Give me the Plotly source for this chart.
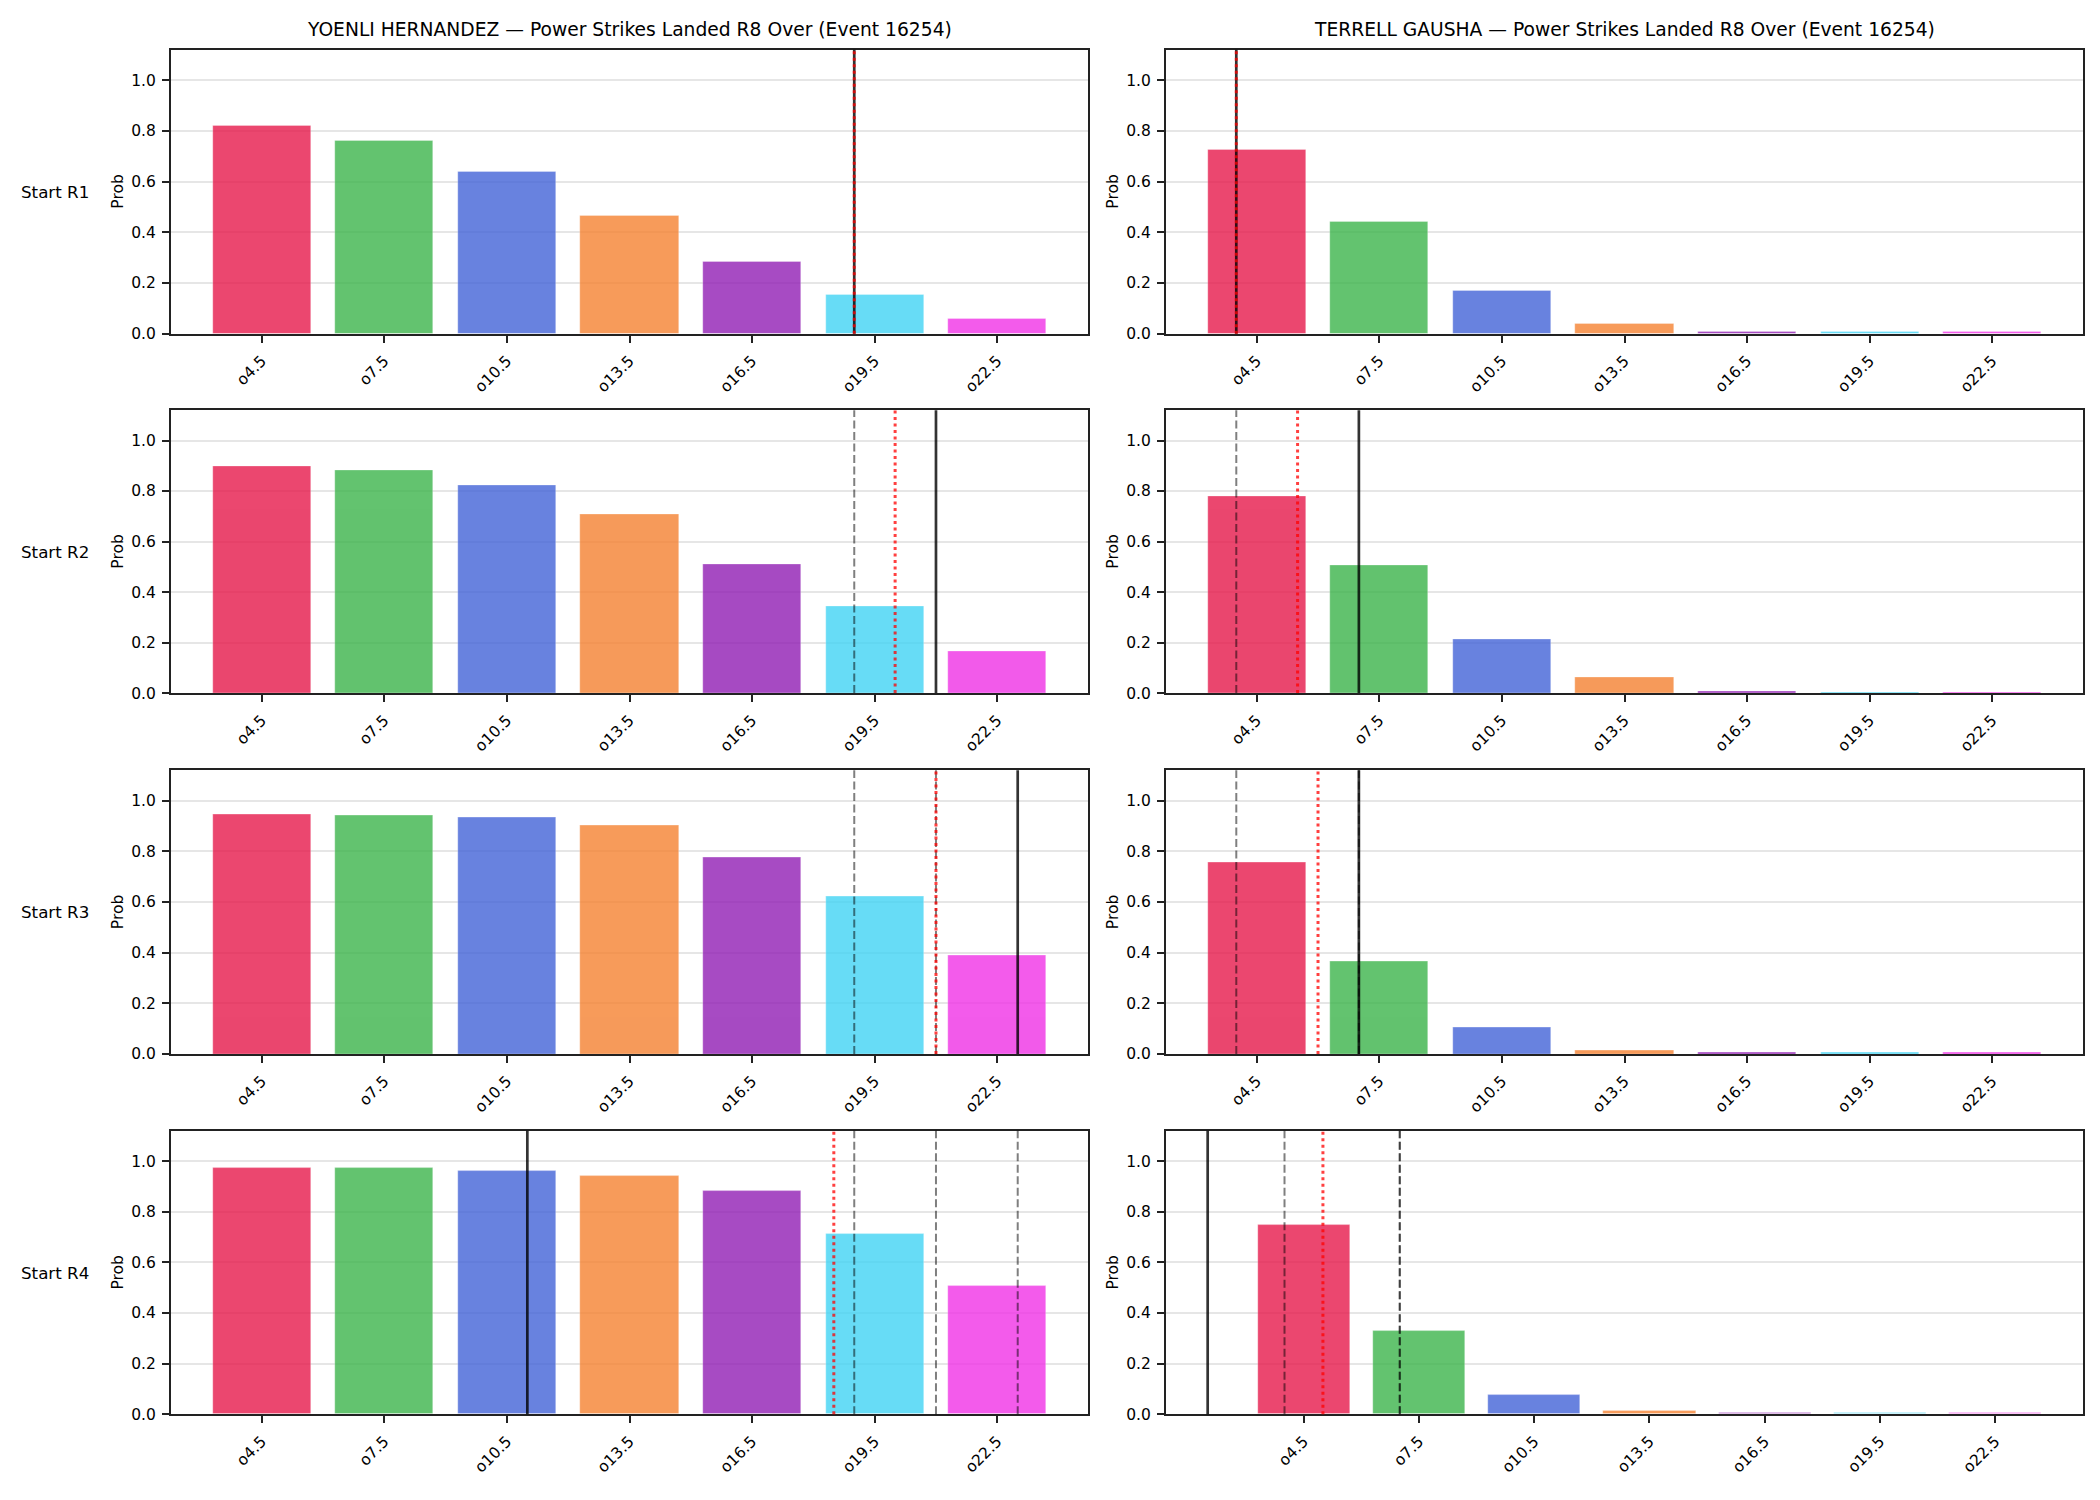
import plotly.graph_objects as go

# ---------------- data ----------------
thresholds = [4.5, 7.5, 10.5, 13.5, 16.5, 19.5, 22.5]
tick_labels = ["o4.5", "o7.5", "o10.5", "o13.5", "o16.5", "o19.5", "o22.5"]
bar_colors = ["#e6194b", "#3cb44b", "#4363d8", "#f58231", "#911eb4", "#42d4f4", "#f032e6"]
round_labels = ["Start R1", "Start R2", "Start R3", "Start R4"]
fighters = ["YOENLI HERNANDEZ", "TERRELL GAUSHA"]
market = "Power Strikes Landed R8 Over (Event 16254)"

hernandez_r1 = [0.819, 0.763, 0.637, 0.464, 0.283, 0.152, 0.058]
hernandez_r2 = [0.899, 0.883, 0.822, 0.708, 0.512, 0.346, 0.167]
hernandez_r3 = [0.945, 0.941, 0.933, 0.901, 0.775, 0.621, 0.388]
hernandez_r4 = [0.972, 0.972, 0.961, 0.941, 0.882, 0.711, 0.507]

gausha_r1 = [0.725, 0.442, 0.170, 0.039, 0.008, 0.006, 0.006]
gausha_r2 = [0.779, 0.507, 0.214, 0.061, 0.009, 0.005, 0.005]
gausha_r3 = [0.755, 0.366, 0.105, 0.013, 0.007, 0.005, 0.005]
gausha_r4 = [0.748, 0.331, 0.075, 0.014, 0.007, 0.005, 0.005]

# vertical reference lines (in strikes)
hernandez_projection = [19, 20, 21, 18.5]   # red dotted
hernandez_current = [19, 21, 23, 11]        # black solid
gausha_projection = [4, 5.5, 6, 5]
gausha_current = [4, 7, 7, 2]

# ---------------- layout geometry ----------------
W, H = 2100, 1500
col_px = [(171, 1088), (1166, 2083)]
row_px = [(50, 335.7), (412.7, 697.3), (775, 1060.3), (1137.7, 1422.7)]
bar_width = 2.4
ylim = 1.12

probs = [
    [hernandez_r1, hernandez_r2, hernandez_r3, hernandez_r4],
    [gausha_r1, gausha_r2, gausha_r3, gausha_r4],
]
projections = [hernandez_projection, gausha_projection]
currents = [hernandez_current, gausha_current]

FONT = "DejaVu Sans"
TICK_FS = 15.5
fig = go.Figure()
layout = dict(
    width=W, height=H,
    margin=dict(l=0, r=0, t=0, b=0),
    paper_bgcolor="white", plot_bgcolor="white",
    showlegend=False, bargap=0,
    font=dict(family=FONT, color="black"),
)
shapes = []
annotations = []

n = 0
for r in range(4):
    for c in range(2):
        n += 1
        xa = "x" if n == 1 else f"x{n}"
        ya = "y" if n == 1 else f"y{n}"
        vals = probs[c][r]
        fig.add_trace(go.Bar(
            x=thresholds, y=vals, width=bar_width,
            marker=dict(color=bar_colors, opacity=0.8,
                        line=dict(color="rgba(255,255,255,0.6)", width=0.5)),
            xaxis=xa, yaxis=ya,
        ))
        prior = currents[c][:r]
        proj = projections[c][r]
        cur = currents[c][r]
        all_lines = prior + [proj, cur]
        lo = min([thresholds[0] - bar_width / 2] + all_lines)
        hi = max([thresholds[-1] + bar_width / 2] + all_lines)
        pad = 0.05 * (hi - lo)
        x0p, x1p = col_px[c]
        t, b = row_px[r]
        layout["xaxis" if n == 1 else f"xaxis{n}"] = dict(
            domain=[x0p / W, x1p / W], anchor=ya,
            range=[lo - pad, hi + pad],
            tickmode="array", tickvals=thresholds, ticktext=tick_labels,
            tickangle=-45, ticks="outside", ticklen=7, tickwidth=1.6, tickcolor="#222",
            tickfont=dict(family=FONT, size=TICK_FS, color="black"),
            showline=True, linecolor="#222", linewidth=2, mirror=True,
            showgrid=False, zeroline=False, ticklabelstandoff=3,
        )
        layout["yaxis" if n == 1 else f"yaxis{n}"] = dict(
            domain=[1 - b / H, 1 - t / H], anchor=xa,
            range=[0, ylim],
            tickmode="array", tickvals=[0, 0.2, 0.4, 0.6, 0.8, 1.0],
            ticktext=["0.0", "0.2", "0.4", "0.6", "0.8", "1.0"],
            ticks="outside", ticklen=7, tickwidth=1.6, tickcolor="#222",
            tickfont=dict(family=FONT, size=TICK_FS, color="black"),
            showline=True, linecolor="#222", linewidth=2, mirror=True,
            showgrid=True, gridcolor="#e6e6e6", gridwidth=1.5, zeroline=False,
            ticklabelstandoff=3,
        )
        # vertical lines: gray dashed (prior starts), black solid (current), red dotted (projection)
        for v in prior:
            shapes.append(dict(type="line", xref=xa, yref=f"{ya} domain",
                               x0=v, x1=v, y0=0, y1=1,
                               line=dict(color="rgba(0,0,0,0.5)", width=2, dash="8px,3.5px")))
        shapes.append(dict(type="line", xref=xa, yref=f"{ya} domain",
                           x0=cur, x1=cur, y0=0, y1=1,
                           line=dict(color="rgba(0,0,0,0.8)", width=2.7)))
        shapes.append(dict(type="line", xref=xa, yref=f"{ya} domain",
                           x0=proj, x1=proj, y0=0, y1=1,
                           line=dict(color="rgba(255,0,0,0.75)", width=3, dash="3px,3.5px")))
        # y label
        annotations.append(dict(text="Prob", xref="paper", yref="paper",
                                x=(x0p - 53) / W, y=1 - (t + b) / 2 / H,
                                xanchor="center", yanchor="middle", textangle=-90,
                                showarrow=False, font=dict(family=FONT, size=15.5, color="black")))
        if r == 0:
            annotations.append(dict(text=f"{fighters[c]} — {market}", xref="paper", yref="paper",
                                    x=(x0p + x1p) / 2 / W, y=1 - t / H, yshift=8,
                                    xanchor="center", yanchor="bottom", showarrow=False,
                                    font=dict(family=FONT, size=18.7, color="black")))
        if c == 0:
            annotations.append(dict(text=round_labels[r], xref="paper", yref="paper",
                                    x=91 / W, y=1 - (t + b) / 2 / H,
                                    xanchor="right", yanchor="middle", showarrow=False,
                                    font=dict(family=FONT, size=16.7, color="black")))

layout["shapes"] = shapes
layout["annotations"] = annotations
fig.update_layout(**layout)
fig.write_html("out.html")
